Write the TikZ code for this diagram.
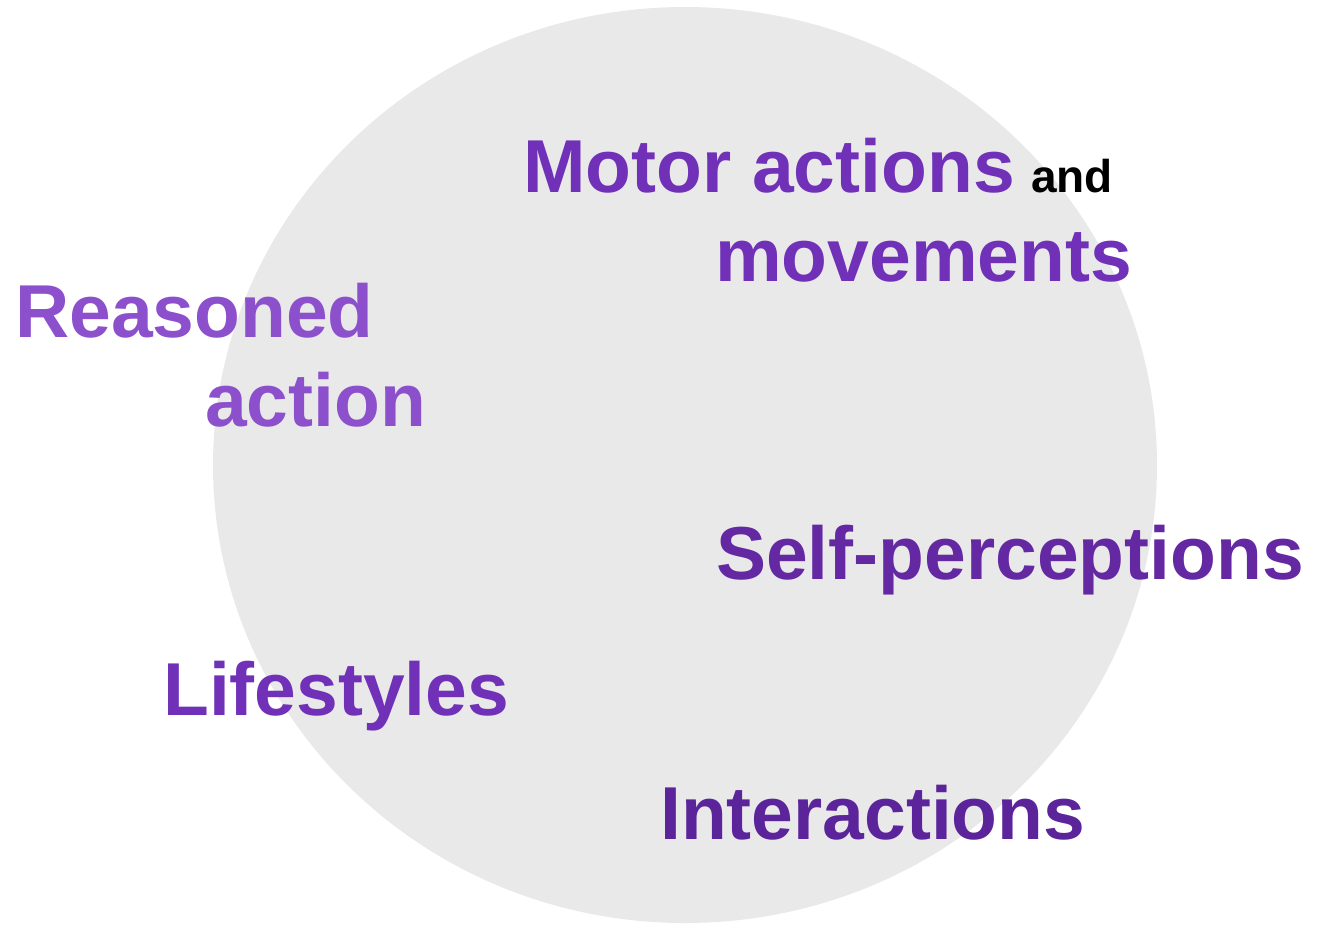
\documentclass[tikz,border=0pt]{standalone}
\usepackage{fontspec}
\setmainfont{Liberation Sans}
\definecolor{disc}{HTML}{E9E9E9}
\definecolor{lilac}{HTML}{8D50CC}
\definecolor{violet}{HTML}{7030B8}
\definecolor{deepviolet}{HTML}{6429A2}
\definecolor{darkviolet}{HTML}{5B249A}
\begin{document}
\begin{tikzpicture}[x=1pt,y=-1pt,
  label/.style={inner sep=0pt,anchor=base west,font=\fontsize{75}{75}\selectfont\bfseries},
  small/.style={inner sep=0pt,anchor=base west,font=\fontsize{46}{46}\selectfont\bfseries}]
\useasboundingbox (0,0) rectangle (1323,924);
% grey disc behind the labels
\fill[disc] (685,465) ellipse [x radius=472pt, y radius=458pt];
% labels
\node[label,text=violet] (motor) at (523,192) {Motor actions};
\node[small,text=black] (and) at (1031,192) {and};
\node[label,text=violet] (move) at (715,281) {movements};
\node[label,text=lilac] (reason) at (15,337) {Reasoned};
\node[label,text=lilac] (action) at (205,426) {action};
\node[label,text=deepviolet] (self) at (716,579) {Self-perceptions};
\node[label,text=violet] (life) at (163,715) {Lifestyles};
\node[label,text=darkviolet] (inter) at (660,839) {Interactions};
\end{tikzpicture}
\end{document}
